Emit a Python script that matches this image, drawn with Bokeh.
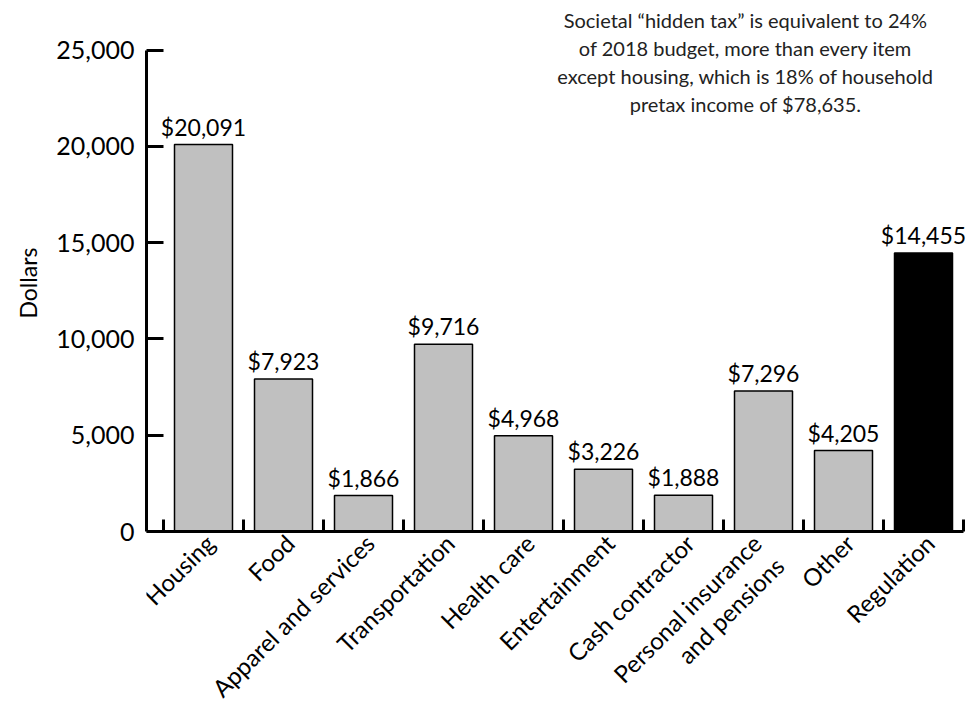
from bokeh.plotting import figure
from bokeh.models import (Range1d, FixedTicker, SingleIntervalTicker, NumeralTickFormatter,
                          ColumnDataSource, Label, LinearAxis, Title)
from bokeh.core.properties import value
from bokeh.embed import file_html
from bokeh.resources import INLINE
import math

categories = ["Housing", "Food", "Apparel and services", "Transportation", "Health care",
              "Entertainment", "Cash contractor", "Personal insurance\nand pensions",
              "Other", "Regulation"]
amounts = [20091, 7923, 1866, 9716, 4968, 3226, 1888, 7296, 4205, 14455]
bar_colors = ["#c0c0c0"] * 9 + ["#000000"]
y_max = 25000
y_ticks_interval = 5000
y_title = "Dollars"
note_lines = ['Societal \u201chidden tax\u201d is equivalent to 24%',
              'of 2018 budget, more than every item',
              'except housing, which is 18% of household',
              'pretax income of $78,635.']

FONT = "Lato"

# ---- layout in pixels (the Bokeh page has no body margin) ----
W, H = 966, 708
BL = 146                 # frame left
zero_px = 531            # screen row of y = 0
top_px = 49.5            # screen row of y = y_max
px_per_cat = 80
upp = y_max / (zero_px - top_px)          # data units per pixel
y_start = -(H - zero_px) * upp
y_end = y_max + top_px * upp
x_start = -17 / px_per_cat
x_end = len(categories) + 3 / px_per_cat

n = len(categories)
centers = [i + 0.5 for i in range(n)]
labels = [f"${v:,}" for v in amounts]
src = ColumnDataSource(dict(x=centers, top=amounts, color=bar_colors, label=labels))

nlines = [c.count("\n") + 1 for c in categories]
cat_src = ColumnDataSource(dict(x=centers, y=[0] * n, text=categories,
                                xo=[-4 - 13 * (k - 1) for k in nlines]))

p = figure(width=W, height=H, output_backend="svg", toolbar_location=None,
           x_range=Range1d(x_start, x_end), y_range=Range1d(y_start, y_end),
           x_axis_location=None,
           min_border_left=BL, min_border_right=0, min_border_top=0, min_border_bottom=0)
p.outline_line_color = None
p.xgrid.visible = False
p.ygrid.visible = False

p.vbar(x="x", top="top", width=0.725, bottom=0, fill_color="color",
       line_color="black", line_width=1.5, source=src)
p.text(x="x", y="top", text="label", source=src, text_align="center",
       text_baseline="bottom", y_offset=-4, text_font=value(FONT),
       text_font_size="23px", text_color="black")

# category labels, rotated
p.text(x="x", y="y", text="text", source=cat_src, angle=math.pi / 4,
       text_align="right", text_baseline="top", x_offset="xo", y_offset=-3,
       text_font=value(FONT), text_font_size="24px", text_color="black",
       text_line_height=1.1)

# x axis drawn at y = 0 with inward ticks on category boundaries
xa = LinearAxis(fixed_location=0, bounds=(x_start, n))
xa.ticker = FixedTicker(ticks=centers, minor_ticks=list(range(n + 1)))
xa.major_label_overrides = {c: "" for c in centers}
xa.major_label_text_font_size = "0px"
xa.major_label_standoff = 0
xa.major_tick_in = 0
xa.major_tick_out = 0
xa.minor_tick_in = 12
xa.minor_tick_out = 0
xa.minor_tick_line_width = 3
xa.axis_line_width = 3
p.add_layout(xa, "below")

ya = p.yaxis[0]
ya.bounds = (0, y_max)
ya.ticker = SingleIntervalTicker(interval=y_ticks_interval, num_minor_ticks=0)
ya.formatter = NumeralTickFormatter(format="0,0")
ya.major_tick_in = 17
ya.major_tick_out = 0
ya.minor_tick_in = 0
ya.minor_tick_out = 0
ya.major_tick_line_width = 3
ya.axis_line_width = 3
ya.major_label_text_font = FONT
ya.major_label_text_font_size = "25px"
ya.major_label_text_color = "black"
ya.major_label_standoff = 12

# y title, centred on the 0..y_max span rather than the whole frame
p.add_layout(Title(text=y_title, align="left", offset=H - 318, standoff=20,
                   vertical_align="top",
                   text_font=FONT, text_font_size="23px", text_font_style="normal",
                   text_color="black"), "left")

# annotation lines: baselines given as screen rows
note_x = x_start + (745 - BL) / px_per_cat
for line, row in zip(note_lines, [19, 47.5, 75.5, 103.5]):
    p.add_layout(Label(x=note_x, y=(zero_px - row) * upp, text=line, text_align="center",
                       text_baseline="alphabetic", text_font=FONT,
                       text_font_size="20px", text_color="#222222"))

open("out.html", "w").write(file_html(p, INLINE))
